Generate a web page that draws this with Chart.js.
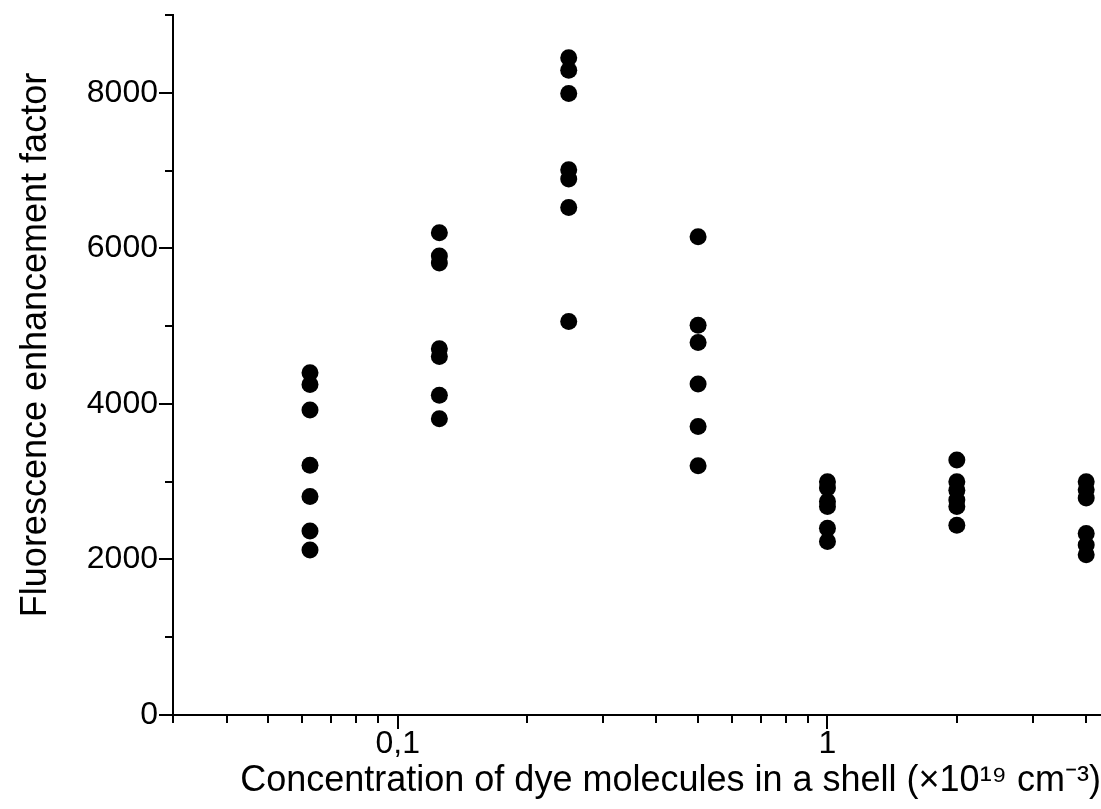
<!DOCTYPE html>
<html>
<head>
<meta charset="utf-8">
<script src="https://cdn.jsdelivr.net/npm/chart.js@4.4.1/dist/chart.umd.min.js"></script>
<style>
  html, body { margin: 0; padding: 0; background: #fff; }
  #wrap { width: 1101px; height: 809px; }
</style>
</head>
<body>
<div id="wrap"><canvas id="enhChart"></canvas></div>
<script>
// Dye concentration in the shell (x10^19 cm^-3), one column of points each
const concentrations = [0.0625, 0.125, 0.25, 0.5, 1, 2, 4];

// Enhancement factors measured at each concentration
const enhAt0p0625 = [4400, 4250, 3920, 3210, 2810, 2365, 2120];
const enhAt0p125 = [6200, 5900, 5810, 4710, 4610, 4110, 3810];
const enhAt0p25 = [8450, 8290, 7990, 7010, 6890, 6525, 5060];
const enhAt0p5 = [6150, 5010, 4790, 4255, 3710, 3205];
const enhAt1 = [3000, 2920, 2745, 2680, 2400, 2230];
const enhAt2 = [3280, 3000, 2890, 2765, 2680, 2440];
const enhAt4 = [3000, 2895, 2790, 2335, 2185, 2060];
const enhColumns = [enhAt0p0625, enhAt0p125, enhAt0p25, enhAt0p5, enhAt1, enhAt2, enhAt4];

// Axis ticks
const xMajorTicks = [0.1, 1];
const xTickLabels = ['0,1', '1'];
const xMinorTicks = [0.03, 0.04, 0.05, 0.06, 0.07, 0.08, 0.09,
                     0.2, 0.3, 0.4, 0.5, 0.6, 0.7, 0.8, 0.9, 2, 3, 4];
const yMajorTicks = [0, 2000, 4000, 6000, 8000];
const yMinorTicks = [1000, 3000, 5000, 7000, 9000];

const yTitle = 'Fluorescence enhancement factor';
const xTitle = 'Concentration of dye molecules in a shell (×10¹⁹ cm⁻³)';

// build the scatter points from the columns
const points = [];
concentrations.forEach((c, i) => {
  enhColumns[i].forEach(v => points.push({ x: c, y: v }));
});

const FONT = "'Liberation Sans', Arial, sans-serif";

// outward ticks (long for major, short for minor) and the y title,
// which sits a bit above the middle of the axis in the original
const axisExtras = {
  id: 'axisExtras',
  afterDraw(chart) {
    const c = chart.ctx;
    const area = chart.chartArea;
    const xs = chart.scales.x;
    const ys = chart.scales.y;
    c.save();
    c.strokeStyle = '#000';
    c.lineWidth = 2;
    c.beginPath();
    xs.ticks.forEach(t => {
      const px = Math.round(xs.getPixelForValue(t.value));
      const len = t.major ? 14 : 8;
      c.moveTo(px, area.bottom);
      c.lineTo(px, area.bottom + len);
    });
    ys.ticks.forEach(t => {
      const py = Math.round(ys.getPixelForValue(t.value));
      const len = t.major ? 14 : 8;
      c.moveTo(area.left, py);
      c.lineTo(area.left - len, py);
    });
    c.stroke();

    c.translate(36, (area.top + area.bottom) / 2 - 20);
    c.rotate(-Math.PI / 2);
    c.fillStyle = '#000';
    c.font = '36px ' + FONT;
    c.textAlign = 'center';
    c.textBaseline = 'middle';
    c.fillText(yTitle, 0, 0);
    c.restore();
  }
};

new Chart(document.getElementById('enhChart'), {
  type: 'scatter',
  data: {
    datasets: [{
      data: points,
      backgroundColor: '#000',
      borderColor: '#000',
      pointRadius: 8.5,
      pointHoverRadius: 8.5,
      borderWidth: 0
    }]
  },
  options: {
    responsive: true,
    maintainAspectRatio: false,
    animation: false,
    layout: { autoPadding: false, padding: { top: 15, right: 0, left: 0, bottom: 0 } },
    plugins: { legend: { display: false }, tooltip: { enabled: false } },
    scales: {
      x: {
        type: 'logarithmic',
        min: 0.03,
        max: 4.33,
        afterBuildTicks: scale => {
          const all = xMinorTicks.concat(xMajorTicks).sort((a, b) => a - b);
          scale.ticks = all.map(v => ({ value: v, major: xMajorTicks.includes(v) }));
        },
        afterFit: scale => {
          scale.height = 94;
          scale.paddingLeft = 0;
          scale.paddingRight = 0;
        },
        grid: { display: false, drawTicks: false },
        border: { display: true, color: '#000', width: 2 },
        ticks: {
          autoSkip: false,
          maxRotation: 0,
          padding: 10,
          color: '#000',
          font: { family: FONT, size: 32 },
          callback: value => {
            const i = xMajorTicks.indexOf(value);
            return i >= 0 ? xTickLabels[i] : '';
          }
        },
        title: {
          display: true,
          text: xTitle,
          align: 'end',
          color: '#000',
          font: { family: FONT, size: 36 },
          padding: { top: 0, bottom: 6 }
        }
      },
      y: {
        min: 0,
        max: 9000,
        afterBuildTicks: scale => {
          const all = yMinorTicks.concat(yMajorTicks).sort((a, b) => a - b);
          scale.ticks = all.map(v => ({ value: v, major: yMajorTicks.includes(v) }));
        },
        afterFit: scale => {
          scale.width = 173;
          scale.paddingTop = 0;
          scale.paddingBottom = 0;
        },
        grid: { display: false, drawTicks: false },
        border: { display: true, color: '#000', width: 2 },
        ticks: {
          autoSkip: false,
          padding: 15,
          color: '#000',
          font: { family: FONT, size: 32 },
          callback: value => (yMajorTicks.includes(value) ? String(value) : '')
        },
        title: { display: false }
      }
    }
  },
  plugins: [axisExtras]
});
</script>
</body>
</html>
